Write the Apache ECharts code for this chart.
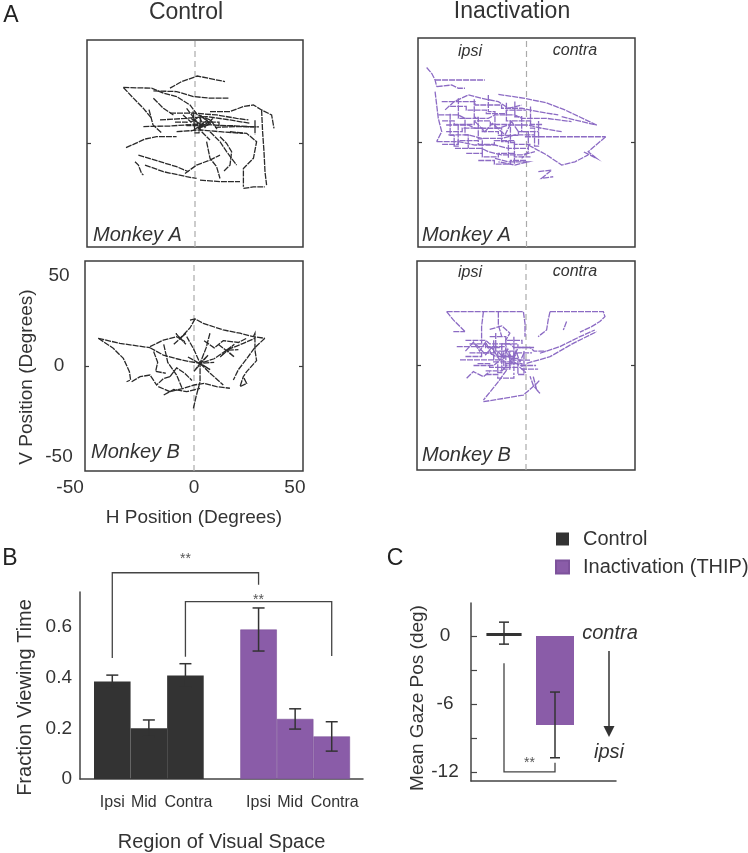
<!DOCTYPE html>
<html><head><meta charset="utf-8">
<script src="https://cdn.jsdelivr.net/npm/echarts@6/dist/echarts.min.js"></script>
<style>html,body{margin:0;padding:0;background:#fff}#c{width:748px;height:853px}</style>
</head><body><div id="c"></div>
<script>
// ---------- Panel A: gaze position axes ----------
const posTicks = [-50, 0, 50];
const posRangeX = [-54, 54];
const posRangeY = [-58, 58];

// Scan paths (degrees), one array per stroke
const ctrlMonkeyA = [
  [[-35.8,31.4],[-21.7,31],[-15.8,28.2],[-9.2,26.3],[-2.5,21.6],[1.2,16],[7.5,13.2]],
  [[-35.8,31.4],[-30.8,25.4],[-25.8,19.7],[-21.7,14.1]],
  [[-12.5,31],[-6.7,34.7],[1.2,37.8],[15,34.7]],
  [[-20.8,29.5],[-9.2,29.1],[-0.8,26.3],[7.5,25.4],[16.7,25.4]],
  [[7.5,17.9],[17.5,17.9],[24.2,20.7],[29.2,21.6],[33.3,18.8],[38.3,16],[39.5,8.5]],
  [[33.3,18.8],[33.8,6.6],[34.5,-4.6],[35,-15.8],[35.8,-23.3]],
  [[24.2,-25.2],[29.2,-24.3],[35,-24.3]],
  [[17.5,6.6],[25.8,5.7],[30.8,1],[29.2,-8.3],[24.2,-14],[24.2,-24.3]],
  [[-25.8,9.5],[-12.5,9.8],[0.8,10.8],[15.8,10],[30.8,9.3]],
  [[-17.5,13.2],[-4.2,14.1],[5.8,15.1],[17.5,13.2],[27.5,11.3]],
  [[-9.2,6.6],[2.5,7.6],[12.5,6.6],[24.2,5.7]],
  [[-12.5,17],[-0.8,17],[10.8,16],[20.8,14.1],[26.7,13.2]],
  [[-4.2,19.7],[0.8,12.3],[3.3,6.6],[7.5,2]],
  [[-34.5,-2.3],[-30.8,-0.5],[-25,2.5],[-19.2,3.8],[-9.2,3.8]],
  [[-30,-10.2],[-28.3,-12.1],[-26.7,-16.8],[-25.8,-17.7]],
  [[-28.3,-6.5],[-17.5,-10.2],[-9.2,-13],[-3.3,-15.8]],
  [[-25,-12.1],[-15.8,-15.8],[-4.2,-18.6],[0.8,-19.6]],
  [[2.5,-20.5],[12.5,-21.4],[22.5,-21.4]],
  [[-5,-16.8],[0.8,-12.1],[7.5,-9.3],[12.5,-6.5]],
  [[5.8,1],[7.5,-8.3],[10.8,-13],[12.5,-19.6]],
  [[12.5,3.8],[15.8,0.1],[18.3,-4.6],[17.5,-12.1],[14.2,-15.8]],
  [[7.5,6.6],[12.5,1],[15.8,-4.6],[20.8,-12.1]],
  [[-2,14],[4,10],[0,8],[6,13],[2,16],[8,11],[3,9],[9,14]],
  [[10,9],[20,9.5],[32,9.3]],
  [[30,13],[30,5]],
  [[-23,19],[-21,10.4],[-16.7,6]],
  [[-20.8,25.4],[-15.8,19.7],[-10.8,16]],
  [[-10,12],[-4,12],[-4,10],[4,10],[4,12],[12,12],[12,10],[20,10]],
  [[-6,16],[-2,12],[2,15],[5,9],[8,13],[11,8]],
  [[-1,18],[0,6],[2,6],[3,16]]
];
const inactMonkeyA = [
  [[-49.7,41.6],[-47.2,38.4],[-45.5,34.7],[-44.7,31]],
  [[-45.5,34.7],[-20.7,34.7]],
  [[-44.7,31],[-37.3,31.9],[-33.9,30.1],[-30.6,30.1]],
  [[-45.5,28.2],[-44.7,20.8],[-43.9,13.4],[-42.2,6],[-44.7,0.5]],
  [[-14,26.7],[-0.8,24.5],[10,22],[19.1,18.1],[34.9,9.7]],
  [[-0.8,3.2],[15.8,3.2],[28.2,3.2],[39.4,3.2]],
  [[39.4,3.2],[30.7,-5.1],[34.9,-8.8],[28.2,-5.1]],
  [[5.9,-16.2],[12.5,-15.3],[7.5,-19.9],[13.3,-19]],
  [[0.9,-1.4],[10,-6.9],[17.5,-12.5],[24.1,-10.7],[30.7,-6.9]],
  [[17.5,14.3],[27.4,11.6],[34.9,9.7]],
  [[-42.2,22.7],[-25.6,22.7],[-25.6,20.8],[-12.4,20.8],[-12.4,19],[-2.4,19],[5.9,17.1],[15.8,15.3]],
  [[-43.9,15.3],[-33.9,15.3],[-30.6,13.4],[-19,13.4],[-15.7,15.3],[-5.8,15.3],[-2.4,13.4],[10,13.4],[22.4,11.6]],
  [[-40,9.7],[-29,9.7],[-25.6,7.9],[-14,7.9],[-9,9.7],[0.9,9.7],[7.5,7.9],[17.5,6]],
  [[-38.9,4.2],[-29,4.2],[-22.3,2.3],[-12.4,2.3],[-5.8,4.2],[4.2,4.2]],
  [[-44.7,0.5],[-33.9,0.5],[-25.6,-1.4],[-15.7,-1.4],[-9,-3.3],[0.9,-3.3]],
  [[-35.6,-3.3],[-22.3,-3.3],[-19,-5.1],[-12.4,-6.9],[-2.4,-6.9],[4.2,-5.1]],
  [[-15.7,-8.8],[-9,-10.7],[0.9,-10.7],[-5.8,-12.5],[-14,-10.7]],
  [[-33.9,24.5],[-33.9,13.4],[-30.6,13.4],[-30.6,4.2],[-29,4.2],[-29,-3.3]],
  [[-19,26.4],[-19,17.1],[-15.7,17.1],[-15.7,8],[-12.4,8],[-12.4,0.5],[-9,0.5],[-9,-8.8]],
  [[-5.8,22.7],[-5.8,14.3],[-2.4,14.3],[-2.4,6],[0.9,6],[0.9,-5.1],[-2.4,-8.8]],
  [[-40.5,18.1],[-36,22.7],[-29,26.4],[-22.3,24.5],[-14,22.7],[-9,19],[-2.4,20.8]],
  [[-25.6,11.6],[-20.7,6],[-17,10.6],[-10.7,4.2],[-7.4,11.6],[-4,6]],
  [[-42,12],[-36,12],[-36,10],[-26,10],[-26,12],[-18,12],[-18,10],[-8,10],[-8,12],[2,12],[2,10],[8,10]],
  [[-40,6],[-32,6],[-32,8],[-22,8],[-22,6],[-14,6],[-14,4],[-4,4],[-4,6],[6,6]],
  [[-42,-1],[-34,-1],[-34,1],[-24,1],[-24,-1],[-16,-1],[-16,1],[-6,1],[-6,-1],[2,-1]],
  [[-30,-6],[-22,-6],[-22,-8],[-14,-8],[-14,-6],[-6,-6],[-6,-8],[2,-8]],
  [[-38,20],[-30,20],[-30,18],[-20,18],[-20,16],[-10,16],[-10,18],[0,18]],
  [[-24,-10],[-16,-10],[-16,-12],[-8,-12],[-8,-10],[0,-10]],
  [[-38,16],[-38,4],[-36,4],[-36,-2],[-34,-2],[-34,10]],
  [[-26,24],[-26,14],[-24,14],[-24,2],[-22,2],[-22,-6]],
  [[-10,22],[-10,12],[-8,12],[-8,0],[-6,0],[-6,-12]],
  [[2,20],[2,8],[4,8],[4,-2],[6,-2],[6,12]]
];
const ctrlMonkeyB = [
  [[-47.4,15.3],[-36.7,12.5],[-21.8,10.1]],
  [[-47.4,15.3],[-40,9.8],[-35,4.2],[-32,-3.1],[-31.4,-7.7],[-33.4,-8.7]],
  [[-30.9,-8.7],[-26.7,-5.9],[-21.8,-5],[-18.5,-10.5],[-15.2,-7],[-11.9,-5.9]],
  [[-2,25.4],[0.5,26],[4.6,23.6],[14.5,19.9],[22.8,18.1],[29.4,16.2],[35.1,15.3]],
  [[-21.8,10.7],[-15.2,14.3],[-8.6,16.2],[-4.5,13.4],[-6.9,15.3],[-2,21],[0.5,26]],
  [[-10,12],[-4,18],[-6.9,15.3],[-9,18],[-4,12]],
  [[-3,5],[8,-2],[3,1.5],[0,-3],[7,6],[3,1.5],[10,2]],
  [[12,12],[20,5],[16.2,8.8],[13,5],[20,12],[16.2,8.8],[22,9]],
  [[29.4,16.2],[30.2,18.1],[30.2,8.8],[31,3],[26.1,-3.1],[24.4,-5.9],[22.8,-11.4],[26.1,-9.6],[24.4,-5.9]],
  [[35.1,15.3],[30,10],[26.1,4],[22,-2],[19.5,-7.7]],
  [[-20,8],[-18,2],[-19,-3],[-14,-4]],
  [[-17.7,-11.4],[-11.9,-14.2],[-5,-12.3],[0,-10.5],[5,-9.6],[11.2,-11.4],[17.8,-12.3]],
  [[-0.3,-23.4],[1,-17],[3,-8.7],[3,1.5],[0,9],[-3.6,16.2]],
  [[-15,-16],[-10,-13],[-3.6,-14.2],[3,-12.3]],
  [[-21.8,10.1],[-15.2,6],[-8.6,4],[-2,2.4],[3,1.5],[10,4],[16.2,8.8],[24.4,12.5],[30.2,15.3]],
  [[-11.9,-5.9],[-8.6,-1],[-4.5,-4.1],[-1,-8]],
  [[-15,12],[-13,2],[-8.6,-5],[-6,-12]],
  [[5,14],[10,10],[14.5,14],[22,13],[26,15.3]],
  [[3,1.5],[8,-4],[12,-8],[14.5,-10.5]],
  [[7.9,18.1],[6,10],[3,1.5]]
];
const inactMonkeyB = [
  [[-39.3,29.9],[-21.1,29.9],[-13.7,29.9],[-1.3,29.9],[-0.5,23.4],[-0.5,16]],
  [[-39.3,29.9],[-36,25.3],[-32.7,21.6],[-30.2,18.8]],
  [[11.9,29.9],[38.3,29.9],[39.1,27.1],[36.6,24.4],[32.5,21.6],[26.7,18.5]],
  [[11.9,29.9],[11,25.3],[10.2,19.7],[6,16]],
  [[-21.1,29.9],[-22,21.6],[-22,12.3]],
  [[-13.7,29.9],[-13.7,22.5],[-12,16]],
  [[0.3,1.2],[11.9,4.9],[23.4,12.3],[35,18.8]],
  [[6.9,6.8],[16.8,10.5],[26.7,16],[34.1,19.7]],
  [[-21.1,-20.1],[-9.6,-18],[-1.3,-16.4],[5.3,-10],[6.9,-8]],
  [[-9.6,-2.5],[-13.7,-9],[-21.1,-19.2]],
  [[3.6,-6.2],[5.3,-13.6],[6.9,-15.5],[3.6,-11],[2,-6]],
  [[-34.3,10.5],[-24.4,10.5],[-17.9,10.5],[-9.6,10.5]],
  [[-32.7,3.1],[-22,3.1],[-11.2,3.1]],
  [[-36,18.8],[-30.2,18.8]],
  [[-29.4,-7.1],[-26.1,-3.4],[-21.1,-6.2],[-17.9,-3.4]],
  [[-30,14],[-20,14],[-18,12],[-8,12],[-6,10],[2,10],[4,8],[10,8]],
  [[-28,7],[-18,7],[-15,5],[-6,5],[-4,7],[3,7]],
  [[-26,0],[-16,0],[-14,2],[-6,2],[-3,0],[5,0]],
  [[-20,-3],[-12,-3],[-10,-1],[-3,-1],[0,-4]],
  [[-15,18],[-15,8],[-11,8],[-11,-2],[-8,-2],[-8,6]],
  [[-6,16],[-6,4],[-4,4],[-4,-5],[-1,-5],[-1,8]],
  [[-25,12],[-20,6],[-17,10],[-13,3],[-10,9],[-7,1],[-4,10]],
  [[-18,20],[-12,22],[-8,18],[-10,14]],
  [[20.1,24.4],[18.5,19.7]],
  [[-28,12],[-20,12],[-20,10],[-12,10],[-12,12],[-4,12],[-4,10],[4,10]],
  [[-30,5],[-22,5],[-22,7],[-14,7],[-14,5],[-6,5],[-6,3],[2,3]],
  [[-24,1],[-18,1],[-18,-1],[-10,-1],[-10,1],[-2,1],[-2,-2],[6,-2]],
  [[-18,16],[-10,16],[-10,14],[-2,14],[-2,12]],
  [[-20,-5],[-14,-5],[-14,-7],[-6,-7],[-6,-4]],
  [[-16,14],[-16,2],[-14,2],[-14,-4],[-12,-4],[-12,10]],
  [[-10,14],[-10,0],[-8,0],[-8,8],[-6,8],[-6,-3]],
  [[-14,8],[-11,4],[-9,9],[-7,3],[-5,8],[-3,2],[-1,7]],
  [[-30,8],[-26,13],[-23,8],[-20,13],[-17,6]]
];

// ---------- Panel B ----------
const regions = ['Ipsi', 'Mid', 'Contra'];
const fracCtrl = [0.385, 0.200, 0.408];
const fracCtrlErr = [0.025, 0.033, 0.047];
const fracInact = [0.590, 0.237, 0.168];
const fracInactErr = [0.085, 0.040, 0.058];
const fracTicks = [0, 0.2, 0.4, 0.6];
const fracMax = 0.738;
// [left category, right category, left leg end, bar level, right leg end, star level]
const sigB = [[0, 4, 0.478, 0.814, 0.767, 0.869], [2, 6, 0.482, 0.700, 0.485, 0.707]];

// ---------- Panel C ----------
const gazeGroups = ['Control', 'Inactivation (THIP)'];
const gazeMean = [0.25, -7.85];
const gazeErr = [0.97, 2.9];
const gazeTickVals = [0, -3, -6, -9, -12];
const gazeLabelVals = [0, -6, -12];
const gazeRange = [-12.8, 2.91];
const sigC = [[0, 1, -2.4, -12.0, -11.2, -11.2]];
const sigMark = '**';

// ---------- build ----------
const FONT = 'Liberation Sans, Arial, Helvetica, sans-serif';
const DARK = '#333333';
const PURPLE = '#8a5ca8';
const TRACE_PURPLE = '#8c6bc4';

const chart = echarts.init(document.getElementById('c'), null, {renderer: 'canvas'});

const aBoxes = [
  {left: 87, top: 40, width: 216, height: 207},
  {left: 418, top: 38, width: 217, height: 209},
  {left: 85, top: 261, width: 218, height: 210},
  {left: 417, top: 261, width: 218, height: 209}
];
const grids = aBoxes.map(b => Object.assign({show: true, borderColor: '#3c3c3c', borderWidth: 1.5, backgroundColor: 'transparent'}, b));
grids.push({left: 80, top: 592, width: 283, height: 187});
grids.push({left: 94, top: 592, width: 256, height: 187});
grids.push({left: 471, top: 603, width: 145, height: 178});
grids.push({left: 478.5, top: 603, width: 102, height: 178});

const tickStyle = {color: '#3c3c3c', width: 1.2};
const xAxes = [], yAxes = [];
for (let i = 0; i < 4; i++) {
  const lab = i === 2;
  xAxes.push({
    gridIndex: i, type: 'value', min: posRangeX[0], max: posRangeX[1],
    axisLine: {show: false, onZero: false}, splitLine: {show: false}, axisTick: {show: false},
    axisLabel: lab ? {
      show: true, customValues: posTicks, fontSize: 19, color: DARK, fontFamily: FONT, margin: 7,
      formatter: v => v === posTicks[0] ? '{l|' + v + '}' : String(v),
      rich: {l: {fontSize: 19, color: DARK, fontFamily: FONT, padding: [0, 46, 0, 0]}}
    } : {show: false},
    name: lab ? 'H Position (Degrees)' : '', nameLocation: 'middle', nameGap: 37,
    nameTextStyle: {fontSize: 19, color: DARK, fontFamily: FONT}
  });
  yAxes.push({
    gridIndex: i, type: 'value', min: posRangeY[0], max: posRangeY[1],
    axisLine: {show: false, onZero: false}, splitLine: {show: false},
    axisTick: {show: true, inside: true, length: 4, customValues: [0], lineStyle: tickStyle},
    axisLabel: lab ? {show: true, customValues: posTicks, fontSize: 19, color: DARK, fontFamily: FONT, align: 'center', margin: 26} : {show: false},
    name: lab ? 'V Position (Degrees)' : '', nameLocation: 'middle', nameGap: 49, nameRotate: 90,
    nameTextStyle: {fontSize: 19, color: DARK, fontFamily: FONT, padding: [0, 22, 0, 0]}
  });
}
// Panel B frame
xAxes.push({gridIndex: 4, type: 'value', min: 0, max: 1,
  axisLine: {show: true, onZero: false, lineStyle: {color: '#444', width: 1.5}}, axisTick: {show: false}, axisLabel: {show: false}, splitLine: {show: false},
  name: 'Region of Visual Space', nameLocation: 'middle', nameGap: 53, nameTextStyle: {fontSize: 20, color: DARK, fontFamily: FONT}});
yAxes.push({gridIndex: 4, type: 'value', min: 0, max: fracMax,
  axisLine: {show: true, onZero: false, lineStyle: {color: '#444', width: 1.5}}, axisTick: {show: false}, splitLine: {show: false},
  axisLabel: {customValues: fracTicks, fontSize: 19, color: DARK, fontFamily: FONT, margin: 8, formatter: v => v === 0 ? '0' : v.toFixed(1)},
  name: 'Fraction Viewing Time', nameLocation: 'middle', nameGap: 45, nameRotate: 90,
  nameTextStyle: {fontSize: 20, color: DARK, fontFamily: FONT, padding: [0, 24, 0, 0]}});
// Panel B bars
const catsB = regions.concat([''], regions);
const catStyle = {fontSize: 16, color: DARK, fontFamily: FONT};
xAxes.push({gridIndex: 5, type: 'category', data: catsB, axisLine: {show: false}, axisTick: {show: false},
  axisLabel: Object.assign({interval: 0, margin: 16,
    formatter: v => v === regions[1] ? '{m|' + v + '}' : (v === regions[2] ? '{c|' + v + '}' : v),
    rich: {m: Object.assign({padding: [0, 10, 0, 0]}, catStyle), c: Object.assign({padding: [0, 0, 0, 6]}, catStyle)}}, catStyle),
  splitLine: {show: false}});
yAxes.push({gridIndex: 5, type: 'value', min: 0, max: fracMax, show: false, splitLine: {show: false}});
// Panel C frame
xAxes.push({gridIndex: 6, type: 'value', min: 0, max: 1,
  axisLine: {show: true, onZero: false, lineStyle: {color: '#444', width: 1.5}}, axisTick: {show: false}, axisLabel: {show: false}, splitLine: {show: false}});
yAxes.push({gridIndex: 6, type: 'value', min: gazeRange[0], max: gazeRange[1],
  axisLine: {show: true, onZero: false, lineStyle: {color: '#444', width: 1.5}}, splitLine: {show: false},
  axisTick: {show: true, inside: true, length: 6, customValues: gazeTickVals, lineStyle: {color: '#444', width: 1.2}},
  axisLabel: {customValues: gazeLabelVals, fontSize: 19, color: DARK, fontFamily: FONT, align: 'center', margin: 26},
  name: 'Mean Gaze Pos (deg)', nameLocation: 'middle', nameGap: 44, nameRotate: 90,
  nameTextStyle: {fontSize: 19, color: DARK, fontFamily: FONT, padding: [0, 12, 0, 0]}});
// Panel C bars
xAxes.push({gridIndex: 7, type: 'category', data: gazeGroups, show: false});
yAxes.push({gridIndex: 7, type: 'value', min: gazeRange[0], max: gazeRange[1], show: false, splitLine: {show: false}});
// mirrored right ticks for A
for (let i = 0; i < 4; i++) {
  yAxes.push({gridIndex: i, type: 'value', position: 'right', min: posRangeY[0], max: posRangeY[1],
    axisLine: {show: false, onZero: false}, splitLine: {show: false}, axisLabel: {show: false},
    axisTick: {show: true, inside: true, length: 4, customValues: [0], lineStyle: tickStyle}});
}

const series = [];
function traces(strokes, idx, color) {
  series.push({type: 'lines', coordinateSystem: 'cartesian2d', xAxisIndex: idx, yAxisIndex: idx, polyline: true, silent: true, z: 3,
    data: strokes.map(s => ({coords: s})), lineStyle: {color: color, width: 1.3, opacity: 1, type: [6, 1]}});
  series.push({type: 'line', xAxisIndex: idx, yAxisIndex: idx, silent: true, z: 1, symbol: 'none',
    data: [[0, posRangeY[0]], [0, posRangeY[1]]], lineStyle: {color: '#aaaaaa', width: 1.2, type: [6, 4]}});
}
traces(ctrlMonkeyA, 0, '#2a2a2a');
traces(inactMonkeyA, 1, TRACE_PURPLE);
traces(ctrlMonkeyB, 2, '#2a2a2a');
traces(inactMonkeyB, 3, TRACE_PURPLE);

series.push({type: 'bar', name: 'Control', xAxisIndex: 5, yAxisIndex: 5, barWidth: '100%', barGap: '-100%',
  data: fracCtrl.concat(['-', '-', '-', '-']), itemStyle: {color: DARK}});
series.push({type: 'bar', name: 'Inactivation (THIP)', xAxisIndex: 5, yAxisIndex: 5, barWidth: '100%', barGap: '-100%',
  data: ['-', '-', '-', '-'].concat(fracInact), itemStyle: {color: PURPLE, borderColor: '#7d529b', borderWidth: 0.6}});

function errBars(items, axis, half) {
  series.push({type: 'custom', xAxisIndex: axis, yAxisIndex: axis, data: items, silent: true, z: 5, clip: false,
    encode: {x: 0, y: 1},
    renderItem: (p, api) => {
      const x = api.value(0), m = api.value(1), e = api.value(2);
      const a = api.coord([x, m + e]), b = api.coord([x, m - e]);
      const st = {stroke: '#333', lineWidth: 1.5};
      return {type: 'group', children: [
        {type: 'line', shape: {x1: a[0], y1: a[1], x2: b[0], y2: b[1]}, style: st},
        {type: 'line', shape: {x1: a[0] - half, y1: a[1], x2: a[0] + half, y2: a[1]}, style: st},
        {type: 'line', shape: {x1: b[0] - half, y1: b[1], x2: b[0] + half, y2: b[1]}, style: st}
      ]};
    }});
}
const errB = fracCtrl.map((v, i) => [i, v, fracCtrlErr[i]]).concat(fracInact.map((v, i) => [i + 4, v, fracInactErr[i]]));
errBars(errB, 5, 6);

function sigBrackets(items, axis) {
  series.push({type: 'custom', xAxisIndex: axis, yAxisIndex: axis, data: items, silent: true, z: 5, clip: false,
    encode: {x: [0, 1], y: [2, 3, 4]},
    renderItem: (p, api) => {
      const x1 = api.value(0), x2 = api.value(1);
      const p1 = api.coord([x1, api.value(2)]), p2 = api.coord([x1, api.value(3)]);
      const p3 = api.coord([x2, api.value(3)]), p4 = api.coord([x2, api.value(4)]);
      const ty = api.coord([x1, api.value(5)])[1];
      const tx = (p2[0] + p3[0]) / 2;
      return {type: 'group', children: [
        {type: 'polyline', shape: {points: [p1, p2, p3, p4]}, style: {stroke: '#444', lineWidth: 1.3, fill: null}},
        {type: 'text', x: tx, y: ty, style: {text: sigMark, fill: '#555', fontSize: 14, fontFamily: FONT, align: 'center', verticalAlign: 'middle'}}
      ]};
    }});
}
sigBrackets(sigB, 5);

series.push({type: 'bar', name: 'Control', xAxisIndex: 7, yAxisIndex: 7, barWidth: 38, barGap: '-100%',
  data: [gazeMean[0], '-'], itemStyle: {color: DARK, borderColor: DARK, borderWidth: 3}});
series.push({type: 'bar', name: 'Inactivation (THIP)', xAxisIndex: 7, yAxisIndex: 7, barWidth: 38, barGap: '-100%',
  data: ['-', gazeMean[1]], itemStyle: {color: PURPLE}});
errBars(gazeMean.map((v, i) => [i, v, gazeErr[i]]), 7, 5);
sigBrackets(sigC, 7);

function txt(text, x, y, size, opts) {
  return {type: 'text', x: x, y: y, silent: true, z: 10, style: Object.assign({text: text, fontSize: size, fontFamily: FONT, fill: DARK, align: 'center', verticalAlign: 'middle'}, opts || {})};
}
const graphic = [
  txt('A', 11, 16, 23, {fill: '#222'}),
  txt('B', 10, 559, 23, {fill: '#222'}),
  txt('C', 395, 559, 23, {fill: '#222'}),
  txt('Control', 186, 13, 23),
  txt('Inactivation', 512, 12, 23),
  txt('Monkey A', 93, 235, 20, {fontStyle: 'italic', align: 'left'}),
  txt('Monkey A', 422, 235, 20, {fontStyle: 'italic', align: 'left'}),
  txt('Monkey B', 91, 452, 20, {fontStyle: 'italic', align: 'left'}),
  txt('Monkey B', 422, 455, 20, {fontStyle: 'italic', align: 'left'}),
  txt('ipsi', 470, 52, 16, {fontStyle: 'italic'}),
  txt('contra', 575, 51, 16, {fontStyle: 'italic'}),
  txt('ipsi', 470, 273, 16, {fontStyle: 'italic'}),
  txt('contra', 575, 272, 16, {fontStyle: 'italic'}),
  txt('contra', 610, 633, 20, {fontStyle: 'italic'}),
  txt('ipsi', 609, 752, 20, {fontStyle: 'italic'}),
  {type: 'line', silent: true, shape: {x1: 609, y1: 651, x2: 609, y2: 728}, style: {stroke: '#333', lineWidth: 1.5}},
  {type: 'polygon', silent: true, shape: {points: [[603.5, 726], [614.5, 726], [609, 737]]}, style: {fill: '#333'}}
];

chart.setOption({
  animation: false,
  backgroundColor: '#ffffff',
  textStyle: {fontFamily: FONT},
  grid: grids,
  xAxis: xAxes,
  yAxis: yAxes,
  legend: {data: gazeGroups, orient: 'vertical', left: 555, top: 529, padding: 0, itemWidth: 13, itemHeight: 13, itemGap: 8,
    icon: 'rect', selectedMode: false, textStyle: {fontSize: 20, color: DARK, fontFamily: FONT, padding: [0, 0, 0, 9]}},
  series: series,
  graphic: graphic
});
</script></body></html>
